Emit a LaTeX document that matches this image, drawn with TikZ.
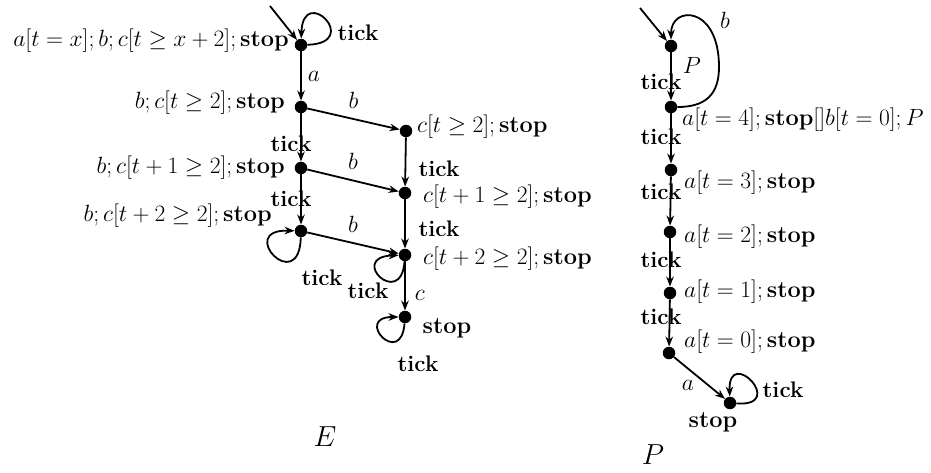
\RequirePackage{fix-cm}
\documentclass[tikz,border=0pt]{standalone}
\usetikzlibrary{arrows.meta,positioning}
\begin{document}
\begin{tikzpicture}[x=1pt,y=-1pt,
  dot/.style={circle,fill=black,inner sep=0pt,minimum size=12.5pt},
  edge/.style={line width=1.8pt,-{Stealth[length=10pt,width=7.5pt]}},
  lab/.style={inner sep=0pt,font=\fontsize{23.5}{27}\selectfont},
  tk/.style={inner sep=0pt,font=\fontsize{22.5}{26}\selectfont\bfseries},
  big/.style={inner sep=0pt,font=\fontsize{29}{33}\selectfont}]
\useasboundingbox (0,0) rectangle (931,472);
% ---------- E ----------
\node[dot] (n0) at (301,45) {};
\node[dot] (n1) at (301,107) {};
\node[dot] (n3) at (301,168) {};
\node[dot] (n5) at (301,231) {};
\node[dot] (n2) at (406,131) {};
\node[dot] (n4) at (405,193) {};
\node[dot] (n6) at (405,255) {};
\node[dot] (n7) at (405,317) {};
\coordinate (s0) at (270,6);
\node[lab,anchor=east] (l0) at (289,41) {$a[t=x];b;c[t\geq x+2];\mathbf{stop}$};
\node[lab,anchor=east] (l1) at (285,103) {$b;c[t\geq 2];\mathbf{stop}$};
\node[lab,anchor=east] (l3) at (285,168) {$b;c[t+1\geq 2];\mathbf{stop}$};
\node[lab,anchor=east] (l5) at (272,216) {$b;c[t+2\geq 2];\mathbf{stop}$};
\node[lab,anchor=west] (l2) at (417,127) {$c[t\geq 2];\mathbf{stop}$};
\node[lab,anchor=west] (l4) at (423,197) {$c[t+1\geq 2];\mathbf{stop}$};
\node[lab,anchor=west] (l6) at (423,259) {$c[t+2\geq 2];\mathbf{stop}$};
\node[lab] (l7) at (447,328) {$\mathbf{stop}$};
\draw[edge] (s0) -- (n0);
\draw[edge] (n0) .. controls +(62,-2) and +(2,-62) .. (n0);
\node[tk] (t0) at (358,33) {tick};
\draw[edge] (n0) -- node[lab,right=6pt] {$a$} (n1);
\draw[edge] (n1) -- node[lab,pos=0.5,yshift=19pt] {$b$} (n2);
\draw[edge] (n3) -- node[lab,pos=0.5,yshift=19pt] {$b$} (n4);
\draw[edge] (n5) -- node[lab,pos=0.5,yshift=19pt] {$b$} (n6);
\draw[edge] (n1) -- (n3);
\draw[edge] (n3) -- (n5);
\draw[edge] (n2) -- (n4);
\draw[edge] (n4) -- (n6);
\draw[edge] (n6) -- node[lab,pos=0.7,right=9pt] {$c$} (n7);
\node[tk] (t13) at (291,144) {tick};
\node[tk] (t35) at (291,199) {tick};
\node[tk] (t24) at (439,169) {tick};
\node[tk] (t46) at (439,229) {tick};
\draw[edge] (n5) .. controls +(-2,66) and +(-66,-2) .. (n5);
\draw[edge] (n6) .. controls +(-4,55) and +(-58,2) .. (n6);
\draw[edge] (n7) .. controls +(-4,52) and +(-52,0) .. (n7);
\node[tk] (t5) at (322,278) {tick};
\node[tk] (t6) at (368,291) {tick};
\node[tk] (t7) at (418,364) {tick};
\node[big] (E) at (325,437) {$E$};
% ---------- P ----------
\node[dot] (p0) at (671,46) {};
\node[dot] (p1) at (671,107) {};
\node[dot] (p2) at (671,170) {};
\node[dot] (p3) at (670,232) {};
\node[dot] (p4) at (670,293) {};
\node[dot] (p5) at (669,353) {};
\node[dot] (p6) at (730,403) {};
\coordinate (s1) at (640,8);
\coordinate (bm) at (719,67);
\draw[edge] (s1) -- (p0);
\draw[edge] (p1) .. controls (705,107) and (719,95) .. (bm) .. controls (719,5) and (671,5) .. (p0);
\node[lab] (bl) at (725,20) {$b$};
\node[lab] (pl) at (692,65) {$P$};
\draw[edge] (p0) -- (p1);
\draw[edge] (p1) -- (p2);
\draw[edge] (p2) -- (p3);
\draw[edge] (p3) -- (p4);
\draw[edge] (p4) -- (p5);
\draw[edge] (p5) -- node[lab,pos=0.45,below left=4pt and 2pt] {$a$} (p6);
\draw[edge] (p6) .. controls +(58,4) and +(-2,-58) .. (p6);
\node[tk] (q0) at (661,82) {tick};
\node[tk] (q1) at (661,137) {tick};
\node[tk] (q2) at (661,192) {tick};
\node[tk] (q3) at (661,260) {tick};
\node[tk] (q4) at (661,317) {tick};
\node[lab,anchor=west] (m1) at (682,120) {$a[t=4];\mathbf{stop}[]b[t=0];P$};
\node[lab,anchor=west] (m2) at (684,183) {$a[t=3];\mathbf{stop}$};
\node[lab,anchor=west] (m3) at (684,237) {$a[t=2];\mathbf{stop}$};
\node[lab,anchor=west] (m4) at (684,292) {$a[t=1];\mathbf{stop}$};
\node[lab,anchor=west] (m5) at (684,342) {$a[t=0];\mathbf{stop}$};
\node[lab] (m6) at (713,422) {$\mathbf{stop}$};
\node[tk] (q5) at (783,390) {tick};
\node[big] (Pbig) at (653,455) {$P$};
\end{tikzpicture}
\end{document}
